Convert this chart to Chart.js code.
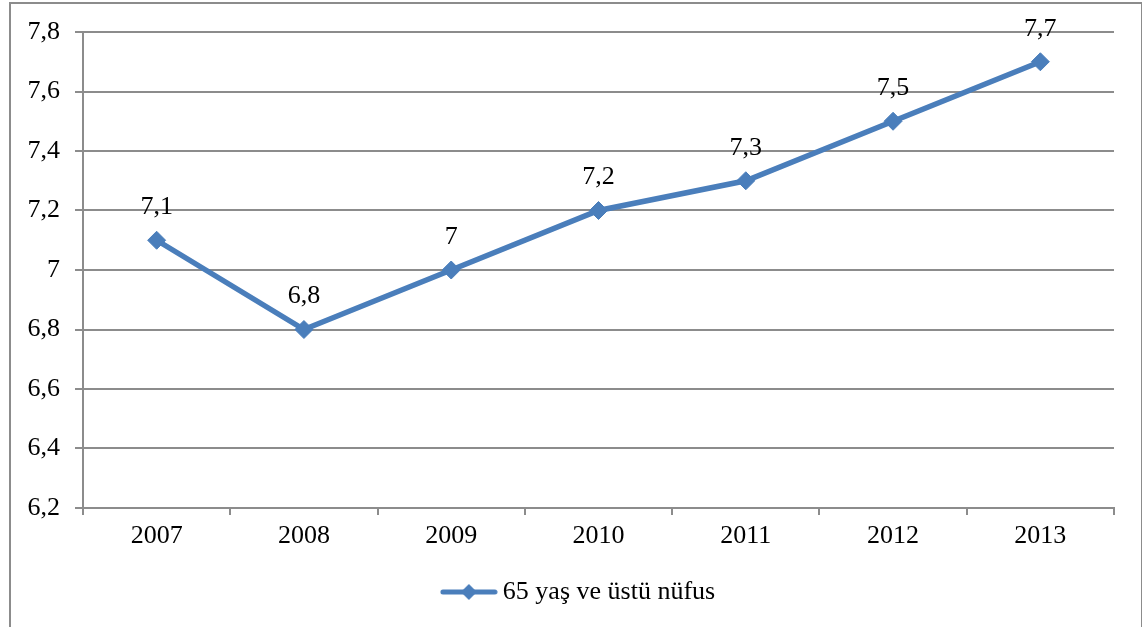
<!DOCTYPE html>
<html>
<head>
<meta charset="utf-8">
<script src="https://cdn.jsdelivr.net/npm/chart.js@4"></script>
<style>
    html, body { margin: 0; padding: 0; background: #fff; overflow: hidden; }
    #kutu {
        position: absolute; left: 9px; top: 2px;
        width: 1130px; height: 640px;
        border: 2px solid #8c8c8c;
        background: #fff;
    }
    #grafik { display: block; }
</style>
</head>
<body>
<div id="kutu"><canvas id="grafik" width="1130" height="623"></canvas></div>
<script>
// veriler
const yillar = ['2007', '2008', '2009', '2010', '2011', '2012', '2013'];
const nufus65 = [7.1, 6.8, 7, 7.2, 7.3, 7.5, 7.7];
const seriAdi = '65 yaş ve üstü nüfus';
const yMin = 6.2;
const yMax = 7.8;
const yAdim = 0.2;

const mavi = '#4a7ebb';
const gri = '#8c8c8c';
const yazi = '"Liberation Serif", "Times New Roman", serif';

function virgullu(v) {
    return String(Math.round(v * 10) / 10).replace('.', ',');
}

// lejant simgesi: çizgi + elmas
function lejantSimgesi() {
    const c = document.createElement('canvas');
    c.width = 58; c.height = 20;
    const g = c.getContext('2d');
    g.strokeStyle = mavi;
    g.lineWidth = 5;
    g.lineCap = 'round';
    g.beginPath();
    g.moveTo(3, 10); g.lineTo(55, 10);
    g.stroke();
    g.fillStyle = mavi;
    g.beginPath();
    g.moveTo(29, 2); g.lineTo(37, 10); g.lineTo(29, 18); g.lineTo(21, 10);
    g.closePath();
    g.fill();
    return c;
}

// nokta etiketleri
const etiketEklentisi = {
    id: 'etiketler',
    afterLayout(chart) {
        // lejant biraz sağda duruyor
        chart.legend.left += 19;
        chart.legend.right += 19;
    },
    afterDatasetsDraw(chart) {
        const ctx = chart.ctx;
        const meta = chart.getDatasetMeta(0);
        ctx.save();
        ctx.font = '26px ' + yazi;
        ctx.fillStyle = '#000';
        ctx.textAlign = 'center';
        ctx.textBaseline = 'middle';
        meta.data.forEach((p, i) => {
            ctx.fillText(virgullu(chart.data.datasets[0].data[i]), p.x, p.y - 33);
        });
        ctx.restore();
    }
};

const simge = lejantSimgesi();

new Chart(document.getElementById('grafik'), {
    type: 'line',
    data: {
        labels: yillar,
        datasets: [{
            label: seriAdi,
            data: nufus65,
            borderColor: mavi,
            backgroundColor: mavi,
            borderWidth: 5.5,
            pointStyle: 'rectRot',
            pointRadius: 9,
            pointHoverRadius: 9,
            pointBackgroundColor: mavi,
            pointBorderColor: mavi,
            pointBorderWidth: 1,
            tension: 0
        }]
    },
    options: {
        responsive: false,
        animation: false,
        events: [],
        layout: { padding: { top: 28, right: 27, left: 0, bottom: 12 } },
        plugins: {
            tooltip: { enabled: false },
            legend: {
                position: 'bottom',
                labels: {
                    color: '#000',
                    font: { family: yazi, size: 26 },
                    usePointStyle: true,
                    pointStyleWidth: 42,
                    padding: 10,
                    generateLabels(chart) {
                        return [{
                            text: seriAdi,
                            pointStyle: simge,
                            fillStyle: mavi,
                            strokeStyle: mavi,
                            lineWidth: 0,
                            datasetIndex: 0
                        }];
                    }
                }
            }
        },
        scales: {
            x: {
                offset: true,
                grid: {
                    offset: true,
                    drawOnChartArea: false,
                    drawTicks: true,
                    tickLength: 7,
                    color: gri,
                    lineWidth: 2
                },
                border: { color: gri, width: 2 },
                ticks: {
                    color: '#000',
                    font: { family: yazi, size: 26 },
                    padding: 6,
                    maxRotation: 0
                },
                afterFit(scale) { scale.height = 61; }
            },
            y: {
                min: yMin,
                max: yMax,
                grid: {
                    color: gri,
                    lineWidth: 2,
                    tickLength: 8
                },
                border: { color: gri, width: 2 },
                ticks: {
                    stepSize: yAdim,
                    color: '#000',
                    font: { family: yazi, size: 26 },
                    padding: 15,
                    callback: v => virgullu(v)
                },
                afterFit(scale) {
                    scale.width = 72;
                    scale.paddingTop = 0;
                    scale.paddingBottom = 0;
                }
            }
        }
    },
    plugins: [etiketEklentisi]
});
</script>
</body>
</html>
